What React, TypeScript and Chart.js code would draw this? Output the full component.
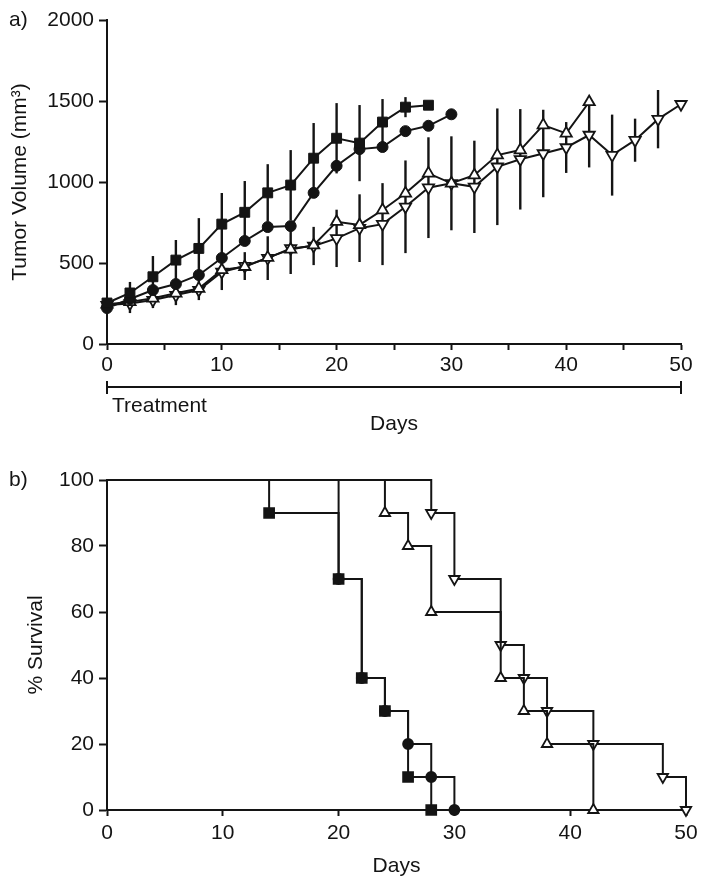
import React, { useEffect, useRef } from "react";
import { Chart, registerables } from "chart.js";

Chart.register(...registerables);

const FONT_FAMILY = "'Liberation Sans', Arial, Helvetica, sans-serif";
const INK = "#141414";

// ---------- Panel a: tumor volume ----------
const squareDays = [0, 2, 4, 6, 8, 10, 12, 14, 16, 18, 20, 22, 24, 26, 28];
const squareVolume = [253, 315, 415, 518, 590, 740, 813, 933, 981, 1147, 1270, 1240, 1370, 1462, 1474];
const squareError = [0, 68, 128, 124, 187, 192, 193, 177, 216, 217, 217, 235, 142, 62, 13];

const circleDays = [0, 2, 4, 6, 8, 10, 12, 14, 16, 18, 20, 22, 24, 26, 28, 30];
const circleVolume = [222, 278, 333, 370, 426, 531, 636, 722, 728, 933, 1100, 1203, 1216, 1314, 1347, 1418];

const triUpDays = [0, 2, 4, 6, 8, 10, 12, 14, 16, 18, 20, 22, 24, 26, 28, 30, 32, 34, 36, 38, 40, 42];
const triUpVolume = [245, 260, 282, 313, 342, 457, 477, 533, 584, 610, 755, 735, 827, 930, 1053, 992, 1042, 1166, 1197, 1351, 1300, 1494];

const triDownDays = [0, 2, 4, 6, 8, 10, 12, 14, 16, 18, 20, 22, 24, 26, 28, 30, 32, 34, 36, 38, 40, 42, 44, 46, 48, 50];
const triDownVolume = [240, 250, 271, 302, 333, 445, 481, 530, 590, 605, 652, 715, 740, 847, 965, 992, 970, 1094, 1140, 1176, 1213, 1290, 1166, 1258, 1388, 1480];
const triDownError = [0, 59, 49, 62, 62, 112, 86, 135, 158, 118, 177, 209, 253, 286, 311, 290, 285, 360, 310, 270, 157, 200, 250, 133, 180, 0];

const volumeTicks = [0, 500, 1000, 1500, 2000];
const treatmentSpan = [0, 50];

// ---------- Panel b: survival ----------
const squareSurvDays = [0, 14, 20, 22, 24, 26, 28];
const squareSurv = [100, 90, 70, 40, 30, 10, 0];

const circleSurvDays = [0, 20, 22, 24, 26, 28, 30];
const circleSurv = [100, 70, 40, 30, 20, 10, 0];

const triUpSurvDays = [0, 24, 26, 28, 34, 36, 38, 42];
const triUpSurv = [100, 90, 80, 60, 40, 30, 20, 0];

const triDownSurvDays = [0, 28, 30, 34, 36, 38, 42, 48, 50];
const triDownSurv = [100, 90, 70, 50, 40, 30, 20, 10, 0];

const font = (size: number) => ({ family: FONT_FAMILY, size, weight: "normal" as const });

const toXY = (xs: number[], ys: number[]) => xs.map((x, i) => ({ x, y: ys[i] }));

const errorBarPlugin = {
  id: "errorBars",
  beforeDatasetsDraw(chart: any) {
    const ctx = chart.ctx;
    const yScale = chart.scales.y;
    chart.data.datasets.forEach((ds: any, i: number) => {
      if (!ds.errors) return;
      const meta = chart.getDatasetMeta(i);
      meta.data.forEach((pt: any, j: number) => {
        const e = ds.errors[j];
        if (!e) return;
        const v = ds.data[j].y;
        ctx.save();
        ctx.strokeStyle = INK;
        ctx.lineWidth = 2.4;
        ctx.beginPath();
        ctx.moveTo(pt.x, yScale.getPixelForValue(v + e));
        ctx.lineTo(pt.x, yScale.getPixelForValue(v - e));
        ctx.stroke();
        ctx.restore();
      });
    });
  },
};

const panelATextPlugin = {
  id: "panelAText",
  afterDraw(chart: any) {
    const ctx = chart.ctx;
    const xs = chart.scales.x;
    const x0 = xs.getPixelForValue(treatmentSpan[0]);
    const x1 = xs.getPixelForValue(treatmentSpan[1]);
    const y = 387;
    ctx.save();
    ctx.strokeStyle = INK;
    ctx.lineWidth = 2;
    ctx.beginPath();
    ctx.moveTo(x0, y);
    ctx.lineTo(x1, y);
    ctx.moveTo(x0, y - 6);
    ctx.lineTo(x0, y + 7);
    ctx.moveTo(x1, y - 6);
    ctx.lineTo(x1, y + 7);
    ctx.stroke();
    ctx.fillStyle = INK;
    ctx.font = `21px ${FONT_FAMILY}`;
    ctx.textBaseline = "middle";
    ctx.textAlign = "left";
    ctx.fillText("Treatment", x0 + 5, 406);
    ctx.fillText("a)", 9, 20);
    ctx.restore();
  },
};

const panelBTextPlugin = {
  id: "panelBText",
  afterDraw(chart: any) {
    const ctx = chart.ctx;
    ctx.save();
    ctx.fillStyle = INK;
    ctx.font = `21px ${FONT_FAMILY}`;
    ctx.textBaseline = "middle";
    ctx.textAlign = "left";
    ctx.fillText("b)", 9, 30);
    ctx.restore();
  },
};

function axisCommon(tickLength: number) {
  return {
    grid: {
      drawOnChartArea: false,
      drawTicks: true,
      tickLength,
      tickWidth: 2,
      tickColor: INK,
    },
    border: { display: true, color: INK, width: 2 },
  };
}

export default function App() {
  const topRef = useRef<HTMLCanvasElement | null>(null);
  const botRef = useRef<HTMLCanvasElement | null>(null);

  useEffect(() => {
    const top = new Chart(topRef.current as HTMLCanvasElement, {
      type: "line",
      data: {
        datasets: [
          {
            data: toXY(squareDays, squareVolume),
            errors: squareError,
            borderColor: INK,
            borderWidth: 2,
            pointStyle: "rect",
            pointRadius: 7,
            pointBackgroundColor: INK,
            pointBorderColor: INK,
            pointBorderWidth: 1,
            clip: false,
          } as any,
          {
            data: toXY(circleDays, circleVolume),
            borderColor: INK,
            borderWidth: 2,
            pointStyle: "circle",
            pointRadius: 5.5,
            pointBackgroundColor: INK,
            pointBorderColor: INK,
            pointBorderWidth: 1,
            clip: false,
          },
          {
            data: toXY(triUpDays, triUpVolume),
            borderColor: INK,
            borderWidth: 2,
            pointStyle: "triangle",
            pointRadius: 6.5,
            pointBackgroundColor: "#ffffff",
            pointBorderColor: INK,
            pointBorderWidth: 1.8,
            clip: false,
          },
          {
            data: toXY(triDownDays, triDownVolume),
            errors: triDownError,
            borderColor: INK,
            borderWidth: 2,
            pointStyle: "triangle",
            pointRotation: 180,
            pointRadius: 6.5,
            pointBackgroundColor: "#ffffff",
            pointBorderColor: INK,
            pointBorderWidth: 1.8,
            clip: false,
          } as any,
        ],
      },
      options: {
        animation: false,
        responsive: false,
        layout: { padding: { left: 0, right: 27, top: 20, bottom: 0 } },
        plugins: { legend: { display: false }, tooltip: { enabled: false } },
        scales: {
          x: {
            type: "linear",
            min: 0,
            max: 50,
            afterFit: (s: any) => {
              s.height = 106;
            },
            ticks: {
              stepSize: 5,
              autoSkip: false,
              maxRotation: 0,
              padding: 3,
              color: INK,
              font: font(21),
              callback: (v: any) => (Number(v) % 10 === 0 ? String(v) : ""),
            },
            ...axisCommon(6),
            title: {
              display: true,
              text: "Days",
              color: INK,
              font: font(21),
              padding: { top: 0, bottom: 13 },
            },
          },
          y: {
            type: "linear",
            min: volumeTicks[0],
            max: volumeTicks[volumeTicks.length - 1],
            afterFit: (s: any) => {
              s.width = 107;
            },
            afterBuildTicks: (s: any) => {
              s.ticks = volumeTicks.map((v) => ({ value: v }));
            },
            ticks: { padding: 5, color: INK, font: font(21), callback: (v: any) => String(v) },
            ...axisCommon(8),
            title: {
              display: true,
              text: "Tumor Volume (mm³)",
              color: INK,
              font: font(21),
              padding: { top: 8, bottom: 0 },
            },
          },
        },
      },
      plugins: [errorBarPlugin, panelATextPlugin],
    } as any);

    const stepDs = (xs: number[], ys: number[], style: string, radius: number, fill: string, rotation = 0) => ({
      data: toXY(xs, ys),
      stepped: "before",
      borderColor: INK,
      borderWidth: 2,
      pointStyle: style,
      pointRotation: rotation,
      pointRadius: xs.map((_, i) => (i === 0 ? 0 : radius)),
      pointBackgroundColor: fill,
      pointBorderColor: INK,
      pointBorderWidth: 1.8,
      clip: false,
    });

    const bottom = new Chart(botRef.current as HTMLCanvasElement, {
      type: "line",
      data: {
        datasets: [
          stepDs(squareSurvDays, squareSurv, "rect", 7, INK),
          stepDs(circleSurvDays, circleSurv, "circle", 5, INK),
          stepDs(triUpSurvDays, triUpSurv, "triangle", 6, "#ffffff"),
          stepDs(triDownSurvDays, triDownSurv, "triangle", 6, "#ffffff", 180),
        ],
      },
      options: {
        animation: false,
        responsive: false,
        layout: { padding: { left: 0, right: 22, top: 30, bottom: 0 } },
        plugins: { legend: { display: false }, tooltip: { enabled: false } },
        scales: {
          x: {
            type: "linear",
            min: 0,
            max: 50,
            afterFit: (s: any) => {
              s.height = 80;
            },
            ticks: { stepSize: 10, autoSkip: false, maxRotation: 0, padding: 5, color: INK, font: font(21) },
            ...axisCommon(6),
            title: {
              display: true,
              text: "Days",
              color: INK,
              font: font(21),
              padding: { top: 0, bottom: 11 },
            },
          },
          y: {
            type: "linear",
            min: 0,
            max: 100,
            afterFit: (s: any) => {
              s.width = 107;
            },
            ticks: { stepSize: 20, padding: 5, color: INK, font: font(21), callback: (v: any) => String(v) },
            ...axisCommon(8),
            title: {
              display: true,
              text: "% Survival",
              color: INK,
              font: font(21),
              padding: { top: 24, bottom: 0 },
            },
          },
        },
      },
      plugins: [panelBTextPlugin],
    } as any);

    return () => {
      top.destroy();
      bottom.destroy();
    };
  }, []);

  return (
    <div style={{ position: "absolute", left: 0, top: 0, width: 708, height: 890, background: "#ffffff" }}>
      <canvas ref={topRef} width={708} height={450} style={{ display: "block", width: 708, height: 450 }} />
      <canvas ref={botRef} width={708} height={440} style={{ display: "block", width: 708, height: 440 }} />
    </div>
  );
}
